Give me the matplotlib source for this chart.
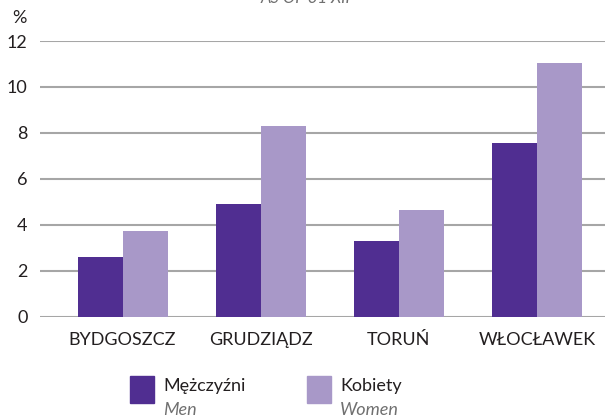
import numpy as np
import matplotlib.pyplot as plt
from matplotlib.patches import Rectangle

plt.rcParams['font.family'] = ['Lato', 'DejaVu Sans']

cities = ['BYDGOSZCZ', 'GRUDZIĄDZ', 'TORUŃ', 'WŁOCŁAWEK']
men = [2.6, 4.9, 3.3, 7.55]
women = [3.75, 8.3, 4.65, 11.05]
yticks = [0, 2, 4, 6, 8, 10, 12]

dark = '#502E91'
light = '#A898C8'

fig = plt.figure(figsize=(6.05, 4.17), dpi=100)
ax = fig.add_axes([40 / 605, 1 - 316.7 / 417, 1 - 40 / 605, (316.7 - 41) / 417])

x = np.arange(len(cities))
w = 0.326
ax.bar(x - w / 2, men, width=w, color=dark, zorder=3)
ax.bar(x + w / 2, women, width=w, color=light, zorder=3)

ax.set_xlim(-0.598, 3.493)
ax.set_ylim(0, 12)
ax.set_yticks(yticks)
ax.set_xticks(x)
ax.set_xticklabels(cities)
ax.tick_params(axis='both', length=0, labelsize=13, colors='#231F20')
ax.tick_params(axis='x', pad=11)
ax.tick_params(axis='y', pad=9)
ax.grid(axis='y', color='#A6A6A6', linewidth=1.5, zorder=0)
ax.set_axisbelow(True)
for s in ax.spines.values():
    s.set_visible(False)

fig.text(12 / 605, 1 - 18 / 417, '%', fontsize=13, color='#231F20', va='center')
fig.text(305 / 605, 1 - 3 / 417, 'AS OF 31 XII', fontsize=12, style='italic',
         color='#707070', ha='center', va='baseline')

# legend drawn by hand (two-line labels)
legend = [('Mężczyźni', 'Men', dark, 130), ('Kobiety', 'Women', light, 307)]
for pl, en, col, px in legend:
    fig.patches.append(Rectangle((px / 605, 1 - 403 / 417), 24 / 605, 27 / 417,
                                 transform=fig.transFigure, color=col))
    fig.text((px + 33) / 605, 1 - 386 / 417, pl, fontsize=13, color='#231F20', va='center')
    fig.text((px + 33) / 605, 1 - 410 / 417, en, fontsize=13, color='#707070',
             style='italic', va='center')

fig.savefig('out.png', dpi=100)
